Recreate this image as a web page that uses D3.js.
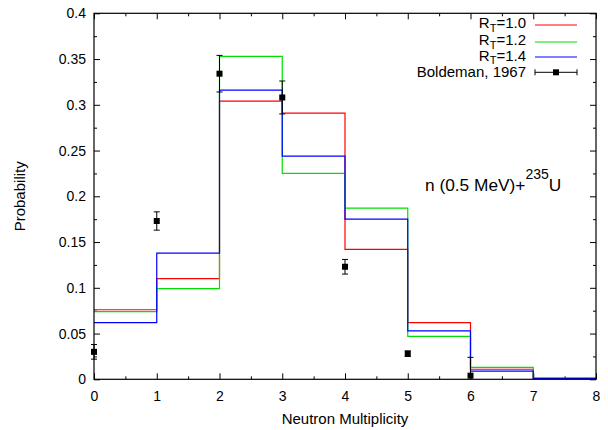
<!DOCTYPE html>
<html>
<head>
<meta charset="utf-8">
<script src="https://cdn.jsdelivr.net/npm/d3@7"></script>
<style>
  body { margin: 0; background: #fff; }
  svg { font-family: "Liberation Sans", Arial, sans-serif; }
</style>
</head>
<body>
<svg width="608" height="430"></svg>
<script>
// neutron multiplicity bins 0..7 (each bin spans k..k+1)
var bins = [0, 1, 2, 3, 4, 5, 6, 7];
var rt10 = [0.076, 0.110, 0.304, 0.291, 0.142, 0.062, 0.011, 0.001];
var rt12 = [0.074, 0.099, 0.353, 0.225, 0.187, 0.047, 0.013, 0.001];
var rt14 = [0.062, 0.138, 0.316, 0.244, 0.175, 0.053, 0.009, 0.001];
// Boldeman, 1967 points: value and error
var expX = [0, 1, 2, 3, 4, 5, 6];
var expY = [0.030, 0.173, 0.334, 0.308, 0.123, 0.028, 0.004];
var expErr = [0.008, 0.010, 0.020, 0.018, 0.008, 0.003, 0.020];
var xTicks = [0, 1, 2, 3, 4, 5, 6, 7, 8];
var yTicks = [0, 0.05, 0.1, 0.15, 0.2, 0.25, 0.3, 0.35, 0.4];

var svg = d3.select("svg"),
    margin = {top: 13.3, right: 12, bottom: 50.7, left: 94},
    width = +svg.attr("width") - margin.left - margin.right,
    height = +svg.attr("height") - margin.top - margin.bottom,
    g = svg.append("g").attr("transform", "translate(" + margin.left + "," + margin.top + ")");

var x = d3.scaleLinear().domain([0, 8]).range([0, width]);
var y = d3.scaleLinear().domain([0, 0.4]).range([height, 0]);

var xMinor = d3.range(0.5, 8, 1);
var yMinor = d3.range(0.025, 0.4, 0.05);

function styleAxis(sel) {
    sel.select(".domain").remove();
    sel.selectAll("line").attr("stroke", "#000").attr("stroke-width", 1);
    sel.selectAll("text").attr("font-size", 14).attr("fill", "#000")
        .attr("font-family", "Liberation Sans, Arial, sans-serif");
}

// bottom axis
g.append("g").attr("transform", "translate(0," + height + ")")
    .call(d3.axisBottom(x).tickValues(xTicks).tickSize(-6).tickPadding(12).tickFormat(d3.format("d")))
    .call(styleAxis);
g.append("g").attr("transform", "translate(0," + height + ")")
    .call(d3.axisBottom(x).tickValues(xMinor).tickSize(-3).tickFormat(""))
    .call(styleAxis);
// top mirror
g.append("g")
    .call(d3.axisTop(x).tickValues(xTicks).tickSize(-6).tickFormat(""))
    .call(styleAxis);
g.append("g")
    .call(d3.axisTop(x).tickValues(xMinor).tickSize(-3).tickFormat(""))
    .call(styleAxis);
// left axis
g.append("g")
    .call(d3.axisLeft(y).tickValues(yTicks).tickSize(-6).tickPadding(8).tickFormat(d => String(+d.toFixed(2))))
    .call(styleAxis);
g.append("g")
    .call(d3.axisLeft(y).tickValues(yMinor).tickSize(-3).tickFormat(""))
    .call(styleAxis);
// right mirror
g.append("g").attr("transform", "translate(" + width + ",0)")
    .call(d3.axisRight(y).tickValues(yTicks).tickSize(-6).tickFormat(""))
    .call(styleAxis);
g.append("g").attr("transform", "translate(" + width + ",0)")
    .call(d3.axisRight(y).tickValues(yMinor).tickSize(-3).tickFormat(""))
    .call(styleAxis);

// step histograms
var step = d3.line()
    .x(d => x(d[0]))
    .y(d => y(d[1]))
    .curve(d3.curveStepAfter);

function stepData(vals) {
    var pts = bins.map((b, i) => [b, vals[i]]);
    pts.push([bins[bins.length - 1] + 1, vals[vals.length - 1]]);
    return pts;
}

var series = [
    {name: "1.0", vals: rt10, color: "#ff0000"},
    {name: "1.2", vals: rt12, color: "#00e000"},
    {name: "1.4", vals: rt14, color: "#0000ff"}
];

series.forEach(s => {
    g.append("path")
        .attr("d", step(stepData(s.vals)))
        .attr("fill", "none")
        .attr("stroke", s.color)
        .attr("stroke-width", 1.2);
});

// experimental points with error bars
var pts = g.append("g");
expX.forEach((xv, i) => {
    var lo = Math.max(0, expY[i] - expErr[i]), hi = expY[i] + expErr[i];
    pts.append("line")
        .attr("x1", x(xv)).attr("x2", x(xv))
        .attr("y1", y(lo)).attr("y2", y(hi))
        .attr("stroke", "#000");
    [expY[i] - expErr[i], hi].forEach(v => {
        if (v < 0) return;
        pts.append("line")
            .attr("x1", x(xv) - 3).attr("x2", x(xv) + 3)
            .attr("y1", y(v)).attr("y2", y(v))
            .attr("stroke", "#000");
    });
    pts.append("rect")
        .attr("x", x(xv) - 3).attr("y", y(expY[i]) - 3)
        .attr("width", 6).attr("height", 6)
        .attr("fill", "#000");
});

// frame
g.append("rect")
    .attr("width", width).attr("height", height)
    .attr("fill", "none").attr("stroke", "#000").attr("stroke-width", 1.2);

// legend
var leg = svg.append("g");
var legY = [25, 42, 57];
var legText = [28.3, 45, 60.8];
series.forEach((s, i) => {
    var t = leg.append("text")
        .attr("x", 526).attr("y", legText[i])
        .attr("text-anchor", "end")
        .attr("font-size", 15);
    t.append("tspan").text("R");
    t.append("tspan").attr("font-size", 11).attr("dy", 3.5).text("T");
    t.append("tspan").attr("dy", -3.5).text("=" + s.name);
    leg.append("line")
        .attr("x1", 535).attr("x2", 577)
        .attr("y1", legY[i]).attr("y2", legY[i])
        .attr("stroke", s.color)
        .attr("stroke-width", 1.2);
});
leg.append("text")
    .attr("x", 526).attr("y", 77.3)
    .attr("text-anchor", "end")
    .attr("font-size", 15)
    .text("Boldeman, 1967");
leg.append("line").attr("x1", 535).attr("x2", 577).attr("y1", 72.3).attr("y2", 72.3).attr("stroke", "#000");
[535, 577].forEach(xv => {
    leg.append("line").attr("x1", xv).attr("x2", xv).attr("y1", 69.3).attr("y2", 75.3).attr("stroke", "#000");
});
leg.append("rect").attr("x", 553).attr("y", 69.3).attr("width", 6).attr("height", 6).attr("fill", "#000");

// annotation
var ann = svg.append("text")
    .attr("x", 425).attr("y", 190.5)
    .attr("font-size", 17.3);
ann.append("tspan").text("n (0.5 MeV)+");
ann.append("tspan").attr("font-size", 14).attr("dy", -12).text("235");
ann.append("tspan").attr("dy", 12).text("U");

// axis titles
svg.append("text")
    .attr("x", margin.left + width / 2).attr("y", 424)
    .attr("text-anchor", "middle")
    .attr("font-size", 15)
    .text("Neutron Multiplicity");
svg.append("text")
    .attr("transform", "translate(25," + (margin.top + height / 2) + ") rotate(-90)")
    .attr("text-anchor", "middle")
    .attr("font-size", 15)
    .text("Probability");
</script>
</body>
</html>
